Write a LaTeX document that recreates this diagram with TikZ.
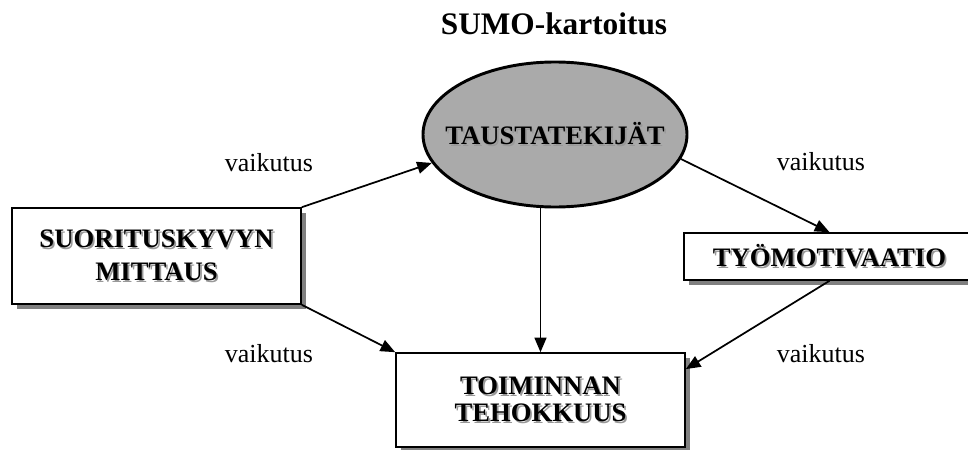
\documentclass[tikz,border=0pt]{standalone}
\usepackage{fontspec}
\setmainfont{Liberation Serif}
\usetikzlibrary{shapes.geometric,shadows,arrows.meta}

\definecolor{taustaharmaa}{RGB}{170,170,170}
\definecolor{varjoharmaa}{RGB}{128,128,128}
\newcommand{\varjo}[1]{\makebox[0pt][l]{\hspace{1.3pt}\raisebox{-1.3pt}{\textcolor{black!40}{#1}}}#1}

\begin{document}
\begin{tikzpicture}[x = 0.75pt, y = -0.75pt,
        laatikko/.style = {draw, line width = 1.2pt, fill = white, align = center, inner sep = 0pt,
            font = \fontsize{20}{24.75}\selectfont\bfseries,
            drop shadow = {shadow xshift = 3.75pt, shadow yshift = -3.75pt, fill = varjoharmaa, opacity = 1}},
        nuoli/.style = {line width = 1.3pt, -{Triangle[length = 11pt, width = 9pt]}},
        selite/.style = {anchor = base, font = \fontsize{19.5}{24}\selectfont}
    ]
        \useasboundingbox (0, 0) rectangle (968, 450);

        \node [anchor = base, font = \fontsize{23.5}{28}\selectfont\bfseries] (otsikko) at (554, 34) {SUMO-kartoitus};

        \node [ellipse, draw, line width = 2.2pt, fill = taustaharmaa, inner sep = 0pt,
            minimum width = 198pt, minimum height = 108.75pt,
            font = \fontsize{20}{24}\selectfont\bfseries] (tausta) at (555, 134.5)
            {\makebox[0pt]{\varjo{TAUSTATEKIJÄT}}};

        \node [laatikko, minimum width = 216.75pt, minimum height = 72pt] (mitta) at (156.5, 256)
            {\varjo{SUORITUSKYVYN}\\\varjo{MITTAUS}};
        \node [laatikko, minimum width = 218.25pt, minimum height = 35.25pt] (motiv) at (829.5, 256.5)
            {\varjo{TYÖMOTIVAATIO}};
        \node [laatikko, minimum width = 216.75pt, minimum height = 70.5pt,
            font = \fontsize{20}{20.25}\selectfont\bfseries] (teho) at (540.5, 400)
            {\varjo{TOIMINNAN}\\\varjo{TEHOKKUUS}};

        \node [selite] (v1) at (269, 171) {vaikutus};
        \node [selite] (v2) at (821, 170) {vaikutus};
        \node [selite] (v3) at (269, 362) {vaikutus};
        \node [selite] (v4) at (821, 362) {vaikutus};

        \draw [nuoli] (mitta.north east) -- (tausta.193);
        \draw [nuoli] (mitta.south east) -- (teho.north west);
        \draw [nuoli] (tausta.south -| teho.north) -- (teho.north);
        \draw [nuoli] (tausta.-11) -- (motiv.north);
        \draw [nuoli] (motiv.south) -- (teho.12);
    \end{tikzpicture}
\end{document}
